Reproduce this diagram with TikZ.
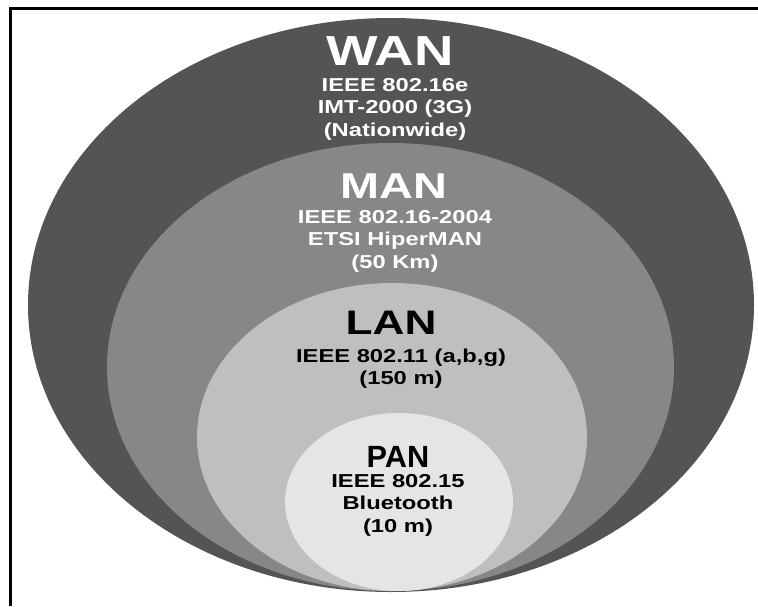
\documentclass[tikz,border=0pt]{standalone}
\usepackage{fontspec}
\newfontfamily\netfont[FakeStretch=1.27]{Liberation Sans}
\newfontfamily\titlefont[FakeStretch=1.3]{Liberation Sans}
\newfontfamily\plainfont{Liberation Sans}
\usetikzlibrary{shapes.geometric}

\definecolor{wangray}{gray}{0.33}
\definecolor{mangray}{gray}{0.53}
\definecolor{langray}{gray}{0.75}
\definecolor{pangray}{gray}{0.90}

\begin{document}
\begin{tikzpicture}[
  x=1pt, y=-1pt,
  zone/.style={ellipse, inner sep=0pt, draw=none},
  title/.style={anchor=base, inner sep=0pt, font=\titlefont\bfseries\fontsize{#1}{#1}\selectfont},
  sub/.style={anchor=base, inner sep=0pt, align=center, font=\netfont\bfseries\fontsize{18.7}{22.4}\selectfont}
]
  \useasboundingbox (0,0) rectangle (758,606);

  % Frame
  \draw[line width=3pt] (10.5,606) -- (10.5,8.5) -- (758,8.5);

  % Nested areas
  \node[zone, fill=wangray, minimum width=726pt, minimum height=574pt] (wan) at (391,305) {};
  \node[zone, fill=mangray, minimum width=567pt, minimum height=448pt] (man) at (390.5,367) {};
  \node[zone, fill=langray, minimum width=390pt, minimum height=308pt] (lan) at (392,437) {};
  \node[zone, fill=pangray, minimum width=228pt, minimum height=178pt] (pan) at (399,502) {};

  % WAN (base = last line)
  \node[title=42, text=white] (wantitle) at (390,65) {WAN};
  \node[sub, text=white] (wantext) at (395,136) {IEEE 802.16e\\IMT-2000 (3G)\\(Nationwide)};

  % MAN
  \node[title=36, text=white] (mantitle) at (394,198) {MAN};
  \node[sub, text=white] (mantext) at (395,268) {IEEE 802.16-2004\\ETSI HiperMAN\\(50 Km)};

  % LAN
  \node[title=34] (lantitle) at (391,334) {LAN};
  \node[sub] (lantext) at (401,384.5) {IEEE 802.11 (a,b,g)\\(150 m)};

  % PAN
  \node[anchor=base, inner sep=0pt, font=\plainfont\bfseries\fontsize{30.7}{30.7}\selectfont] (pantitle) at (398,467) {PAN};
  \node[sub] (pantext) at (398,532) {IEEE 802.15\\Bluetooth\\(10 m)};
\end{tikzpicture}
\end{document}
